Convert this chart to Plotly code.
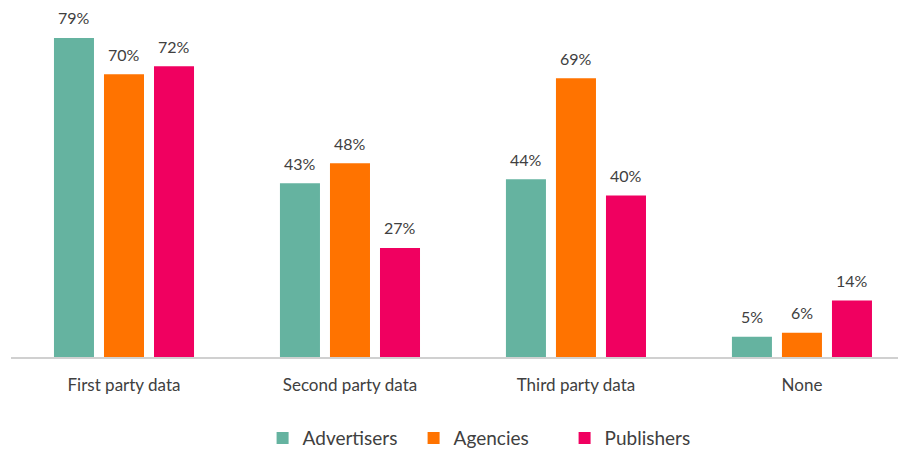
import plotly.graph_objects as go

categories = ["First party data", "Second party data", "Third party data", "None"]
advertisers = [79, 43, 44, 5]
agencies = [70, 48, 69, 6]
publishers = [72, 27, 40, 14]

series = [
    ("Advertisers", advertisers, "#65B3A0"),
    ("Agencies", agencies, "#FF7300"),
    ("Publishers", publishers, "#F00060"),
]

FONT = "Lato, Open Sans, sans-serif"

fig = go.Figure()
for name, vals, color in series:
    fig.add_trace(go.Bar(
        name=name, x=categories, y=vals,
        marker=dict(color=color, line=dict(width=0)),
    ))

slot = 50  # px between bar centres in a group
for i, (name, vals, color) in enumerate(series):
    for c, v in zip(categories, vals):
        fig.add_annotation(
            x=c, y=v, xref="x", yref="y", text=f"{v}%", showarrow=False,
            xshift=(i - 1) * slot, yshift=20, yanchor="middle",
            font=dict(family=FONT, size=16, color="#404040"),
        )

fig.update_layout(
    width=904, height=452,
    margin=dict(l=11, r=6, t=0, b=95, autoexpand=False),
    paper_bgcolor="white", plot_bgcolor="white",
    barmode="group", bargap=0.336, bargroupgap=0.2,
    font=dict(family=FONT, color="#404040"),
    showlegend=True,
    legend=dict(
        orientation="h", x=0.539, xanchor="center", y=-0.227, yanchor="middle",
        font=dict(size=19, color="#404040"), itemwidth=30, traceorder="normal",
        entrywidth=106, entrywidthmode="pixels",
    ),
    xaxis=dict(
        range=[-0.5, 3.425], showgrid=False, showline=True, linecolor="#D0D0D0",
        linewidth=2, ticks="", tickfont=dict(size=17, color="#404040"),
        ticklabelstandoff=12, automargin=False,
    ),
    yaxis=dict(range=[0, 88.4], visible=False, showgrid=False, automargin=False),
)

fig.write_html("out.html")
